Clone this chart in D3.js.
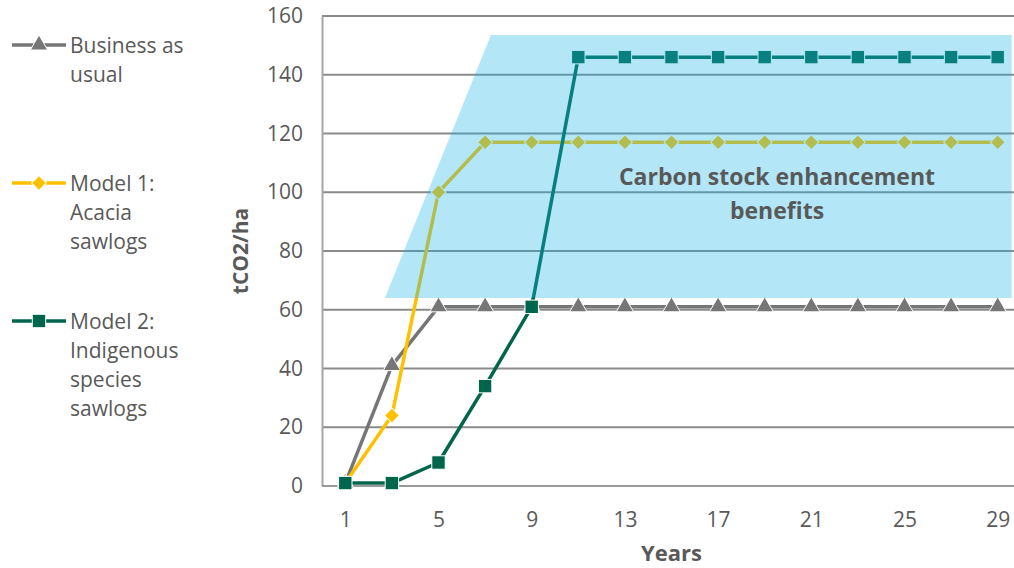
<!DOCTYPE html>
<html>
<head>
<meta charset="utf-8">
<script src="https://cdn.jsdelivr.net/npm/d3@7"></script>
<style>
  html, body { margin: 0; padding: 0; background: #ffffff; }
  svg { display: block; font-family: "Open Sans", "Noto Sans", sans-serif; }
</style>
</head>
<body>
<svg id="chart" width="1014" height="568"></svg>
<script>
// ---- data ----
const years = [1, 3, 5, 7, 9, 11, 13, 15, 17, 19, 21, 23, 25, 27, 29];
const businessAsUsual = [1, 41, 61, 61, 61, 61, 61, 61, 61, 61, 61, 61, 61, 61, 61];
const model1Acacia = [1, 24, 100, 117, 117, 117, 117, 117, 117, 117, 117, 117, 117, 117, 117];
const model2Indigenous = [1, 1, 8, 34, 61, 146, 146, 146, 146, 146, 146, 146, 146, 146, 146];
const xTickLabels = [1, 5, 9, 13, 17, 21, 25, 29];
const yTickLabels = [0, 20, 40, 60, 80, 100, 120, 140, 160];
// shaded "benefits" region, in (year, tCO2/ha) units
const benefitYears = [2.7, 7.25, 29.6, 29.6];
const benefitValues = [64, 153.5, 153.5, 64];
const benefitLabel = ["Carbon stock enhancement", "benefits"];
const seriesNames = [["Business as", "usual"], ["Model 1:", "Acacia", "sawlogs"], ["Model 2:", "Indigenous", "species", "sawlogs"]];

// ---- layout ----
const plot = { left: 322, right: 1021, top: 16, bottom: 486 };
const textColor = "#595959";

const svg = d3.select("#chart");
const x = d3.scaleLinear().domain([0, 30]).range([plot.left, plot.right]);
const y = d3.scaleLinear().domain([0, 160]).range([plot.bottom, plot.top]);

// gridlines
svg.append("g").selectAll("line").data(yTickLabels.filter(d => d > 0)).join("line")
  .attr("x1", plot.left).attr("x2", plot.right)
  .attr("y1", d => y(d)).attr("y2", d => y(d))
  .attr("stroke", "#8a8a8a").attr("stroke-width", 2);

// y axis
const yAxis = svg.append("g").attr("transform", `translate(${plot.left},0)`)
  .call(d3.axisLeft(y).tickValues(yTickLabels).tickSize(0).tickPadding(19));
yAxis.select(".domain").attr("stroke", "#a6a6a6").attr("stroke-width", 2);
yAxis.selectAll("text").attr("fill", textColor).attr("font-size", 21)
  .attr("font-family", "Open Sans");

// x axis
const xAxis = svg.append("g").attr("transform", `translate(0,${plot.bottom})`)
  .call(d3.axisBottom(x).tickValues(xTickLabels).tickSize(0).tickPadding(26).tickFormat(d3.format("d")));
xAxis.select(".domain").attr("stroke", "#9a9a9a").attr("stroke-width", 2).attr("d", `M${plot.left},0H${plot.right}`);
xAxis.selectAll("text").attr("fill", textColor).attr("font-size", 21)
  .attr("font-family", "Open Sans");

// axis titles
svg.append("text").attr("x", (plot.left + plot.right) / 2).attr("y", 561)
  .attr("text-anchor", "middle").attr("font-weight", "bold").attr("font-size", 22)
  .attr("fill", textColor).text("Years");
svg.append("text").attr("transform", `translate(248,${(plot.top + plot.bottom) / 2}) rotate(-90)`)
  .attr("text-anchor", "middle").attr("font-weight", "bold").attr("font-size", 21)
  .attr("fill", textColor).text("tCO2/ha");

// ---- series ----
const series = [
  { values: businessAsUsual, color: "#767676", marker: d3.symbolTriangle, size: 130, rot: 0, width: 3.5 },
  { values: model1Acacia, color: "#FFC000", marker: d3.symbolSquare, size: 110, rot: 45, width: 3.5 },
  { values: model2Indigenous, color: "#00664B", marker: d3.symbolSquare, size: 180, rot: 0, width: 3.5 }
];

const line = d3.line().x(d => x(d[0])).y(d => y(d[1]));

series.forEach(s => {
  const pts = years.map((yr, i) => [yr, s.values[i]]);
  const g = svg.append("g");
  g.append("path").attr("d", line(pts)).attr("fill", "none")
    .attr("stroke", s.color).attr("stroke-width", s.width).attr("stroke-linejoin", "round");
  g.selectAll("path.m").data(pts).join("path").attr("class", "m")
    .attr("transform", d => `translate(${x(d[0])},${y(d[1])}) rotate(${s.rot})`)
    .attr("d", d3.symbol().type(s.marker).size(s.size))
    .attr("fill", s.color).attr("stroke", "#ffffff").attr("stroke-width", 1);
});

// ---- shaded benefit region (translucent overlay) ----
const poly = benefitYears.map((yr, i) => [x(yr), y(benefitValues[i])]);
svg.append("path").attr("d", "M" + poly.join("L") + "Z")
  .attr("fill", "rgb(25,182,234)").attr("fill-opacity", 0.33);

svg.append("g").selectAll("text").data(benefitLabel).join("text")
  .attr("x", 777).attr("y", (d, i) => 185 + i * 34)
  .attr("text-anchor", "middle").attr("font-weight", "bold").attr("font-size", 23)
  .attr("fill", textColor).text(d => d);

// ---- legend ----
const legendY = [45, 183, 321];
series.forEach((s, i) => {
  const g = svg.append("g").attr("transform", `translate(0,${legendY[i]})`);
  g.append("line").attr("x1", 12).attr("x2", 66).attr("y1", 0).attr("y2", 0)
    .attr("stroke", s.color).attr("stroke-width", 3.5);
  g.append("path").attr("transform", `translate(39,0) rotate(${s.rot})`)
    .attr("d", d3.symbol().type(s.marker).size(s.size))
    .attr("fill", s.color).attr("stroke", "#ffffff").attr("stroke-width", 1);
  g.selectAll("text").data(seriesNames[i]).join("text")
    .attr("x", 70).attr("y", (d, j) => 8 + j * 29)
    .attr("font-size", 21).attr("fill", textColor).text(d => d);
});
</script>
</body>
</html>
